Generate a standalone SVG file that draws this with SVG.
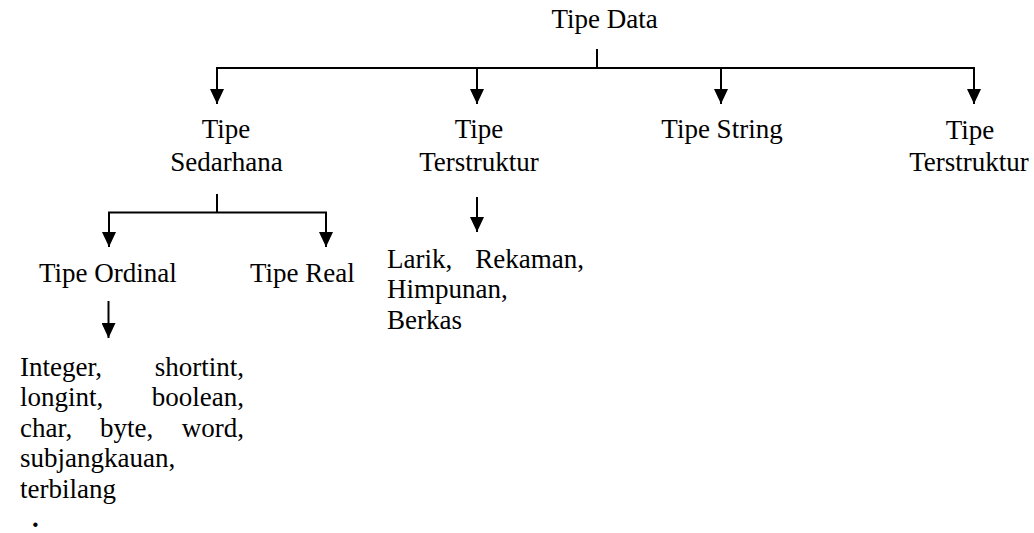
<svg xmlns="http://www.w3.org/2000/svg" width="1034" height="533" viewBox="0 0 1034 533">
<style>
text{font-family:"Liberation Serif","Times New Roman",serif;font-size:27px;fill:#000}
.c{text-anchor:middle}
.e{text-anchor:end}
.ln{stroke:#000;stroke-width:2;fill:none}
.ar{stroke:#000;stroke-width:2;fill:none;marker-end:url(#ah)}
</style>
<defs>
<marker id="ah" markerUnits="userSpaceOnUse" markerWidth="15" markerHeight="14" viewBox="0 0 15 14" refX="15" refY="7" orient="auto">
<path d="M0,0 L15,7 L0,14 z" fill="#000"/>
</marker>
</defs>
<rect width="1034" height="533" fill="#fff"/>
<g id="connectors">
<path class="ln" d="M597,49 V68 M216,68 H975"/>
<path class="ar" d="M217,68 V104"/>
<path class="ar" d="M477,68 V104"/>
<path class="ar" d="M721,68 V104"/>
<path class="ar" d="M974,68 V104"/>
<path class="ln" d="M217,194 V212.5 M108,212.5 H327"/>
<path class="ar" d="M109,212.5 V247"/>
<path class="ar" d="M326,212.5 V247"/>
<path class="ar" d="M477,197 V232"/>
<path class="ar" d="M108.5,301 V338"/>
</g>
<g id="tipe-data"><text x="604.5" y="28" class="c">Tipe Data</text></g>
<g id="tipe-sederhana"><text x="226" y="138" class="c">Tipe</text><text x="226.5" y="171" class="c">Sedarhana</text></g>
<g id="tipe-terstruktur-1"><text x="479" y="138" class="c">Tipe</text><text x="479" y="171" class="c">Terstruktur</text></g>
<g id="tipe-string"><text x="722" y="138" class="c">Tipe String</text></g>
<g id="tipe-terstruktur-2"><text x="970" y="139" class="c">Tipe</text><text x="969" y="171" class="c">Terstruktur</text></g>
<g id="tipe-ordinal"><text x="39" y="282">Tipe Ordinal</text></g>
<g id="tipe-real"><text x="250" y="282">Tipe Real</text></g>
<g id="larik">
<text x="387" y="268">Larik,</text><text x="584" y="268" class="e">Rekaman,</text>
<text x="387" y="298">Himpunan,</text>
<text x="387" y="329">Berkas</text>
</g>
<g id="ordinal-list">
<text x="20" y="376">Integer,</text><text x="244" y="376" class="e">shortint,</text>
<text x="20" y="406">longint,</text><text x="244" y="406" class="e">boolean,</text>
<text x="20" y="437">char,</text><text x="100" y="437">byte,</text><text x="244" y="437" class="e">word,</text>
<text x="20" y="467">subjangkauan,</text>
<text x="20" y="498">terbilang</text>
<text x="32" y="527" font-size="22" font-weight="bold">.</text>
</g>
</svg>
